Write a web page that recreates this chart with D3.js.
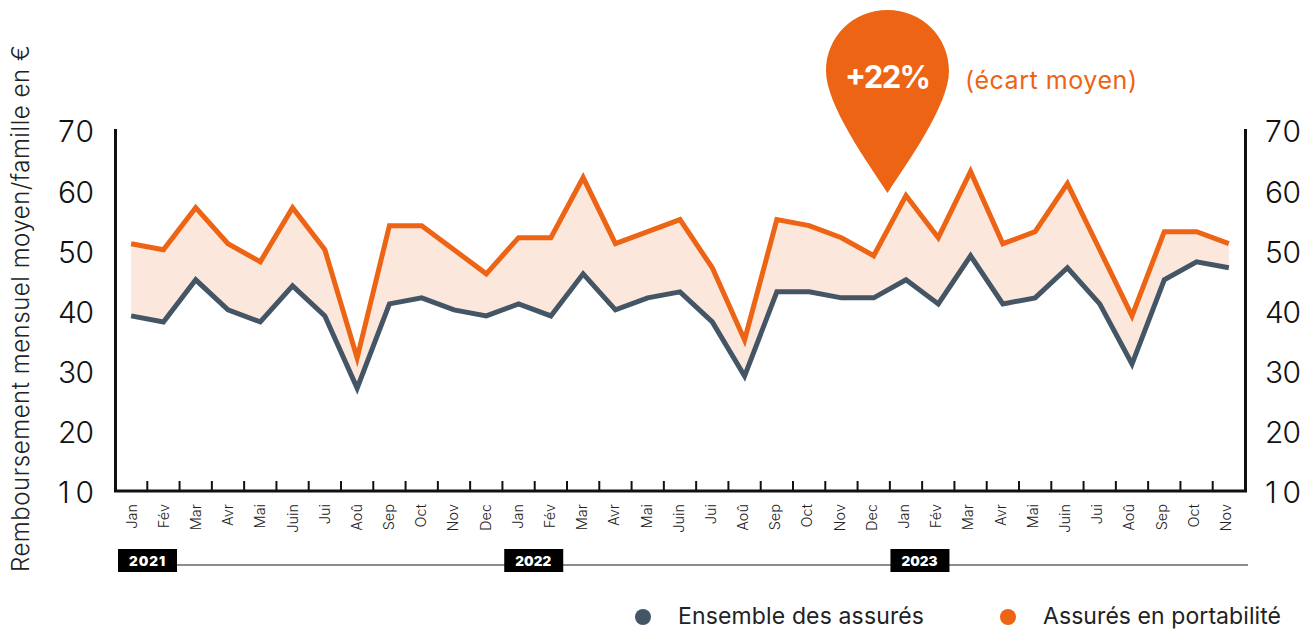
<!DOCTYPE html>
<html><head><meta charset="utf-8">
<script src="https://cdn.jsdelivr.net/npm/d3@7/dist/d3.min.js"></script>
<style>html,body{margin:0;padding:0;background:#fff}svg{display:block}text{font-family:Inter,Lato,sans-serif}</style>
</head><body><svg id="c" width="1312" height="629"></svg>
<script>
const months=["Jan","Fév","Mar","Avr","Mai","Juin","Jui","Aoû","Sep","Oct","Nov","Dec","Jan","Fév","Mar","Avr","Mai","Juin","Jui","Aoû","Sep","Oct","Nov","Dec","Jan","Fév","Mar","Avr","Mai","Juin","Jui","Aoû","Sep","Oct","Nov"];
const ensemble=[39,38,45,40,38,44,39,27,41,42,40,39,41,39,46,40,42,43,38,29,43,43,42,42,45,41,49,41,42,47,41,31,45,48,47];
const portabilite=[51,50,57,51,48,57,50,32,54,54,50,46,52,52,62,51,53,55,47,35,55,54,52,49,59,52,63,51,53,61,50,39,53,53,51];
const yTicks=[10,20,30,40,50,60,70];
const years=[["2021",0],["2022",12],["2023",24]];
const seriesNames=["Ensemble des assurés","Assurés en portabilité"];
const ORANGE="#ec6414",BLUE="#445566",FILL="#fbe7dc";

const svg=d3.select("#c");
const idx=d3.range(months.length);
const x=d3.scaleBand().domain(idx).range([115,1245]);
const xLab=d3.scaleBand().domain(idx).range([115,1241.5]);
const cx=i=>x(i)+x.bandwidth()/2;
const y=d3.scaleLinear().domain([10,70]).range([490.4,129.4]);

svg.append("path").attr("fill",FILL)
 .attr("d",d3.area().x(cx).y0(i=>y(ensemble[i])).y1(i=>y(portabilite[i]))(idx));
const line=arr=>d3.line().x(cx).y(i=>y(arr[i]))(idx);
svg.append("path").attr("d",line(ensemble)).attr("fill","none").attr("stroke",BLUE).attr("stroke-width",5).attr("stroke-linejoin","miter");
svg.append("path").attr("d",line(portabilite)).attr("fill","none").attr("stroke",ORANGE).attr("stroke-width",5).attr("stroke-linejoin","miter");

// axes frame
const base=491;
svg.append("path").attr("fill","none").attr("stroke","#111").attr("stroke-width",3)
 .attr("d",`M115.5,129V${base}H1245.5V129`);
idx.slice(1).forEach(i=>svg.append("line").attr("x1",x(i)).attr("x2",x(i)).attr("y1",base-10).attr("y2",base).attr("stroke","#111").attr("stroke-width",2));

// y labels
yTicks.forEach(t=>{
  const yy=y(t)+13;
  svg.append("text").attr("x",58).attr("y",yy).attr("font-size",30).attr("font-weight",300).attr("fill","#111").attr("textLength",36).text(t);
  svg.append("text").attr("x",1265).attr("y",yy).attr("font-size",30).attr("font-weight",300).attr("fill","#111").attr("textLength",36).text(t);
});
// month labels
idx.forEach(i=>svg.append("text").attr("transform",`translate(${xLab(i)+xLab.bandwidth()/2+5.5},504) rotate(-90)`).attr("text-anchor","end").attr("font-size",14.5).attr("font-weight",300).attr("fill","#222").text(months[i]));

// year strip
svg.append("line").attr("x1",177).attr("x2",1248).attr("y1",565).attr("y2",565).attr("stroke","#666").attr("stroke-width",1.5);
years.forEach(([lab,i])=>{
  const l=xLab(i)+3;
  svg.append("rect").attr("x",l).attr("y",549).attr("width",59).attr("height",23).attr("fill","#000");
  svg.append("text").attr("x",l+11).attr("y",566).attr("font-size",13.5).attr("font-weight",900).attr("fill","#fff").attr("textLength",36).text(lab);
});

// y title
svg.append("text").attr("transform","translate(29,572) rotate(-90)").attr("font-size",24).attr("font-weight",300).attr("fill","#222").attr("textLength",527).attr("lengthAdjust","spacing").text("Remboursement mensuel moyen/famille en €");

// pin
svg.append("path").attr("fill",ORANGE).attr("d","M887.5,193 C868,163 826,105 826,71 C826,37 853,10 887.5,10 C922,10 949,37 949,71 C949,105 907,163 887.5,193 Z");
svg.append("text").attr("x",845).attr("y",88).attr("font-size",31).attr("font-weight",700).attr("fill","#fff").attr("textLength",86).text("+22%");
svg.append("text").attr("x",965).attr("y",89).attr("font-size",25).attr("font-weight",400).attr("fill",ORANGE).attr("textLength",172).text("(écart moyen)");

// legend
[[643,678,246,BLUE],[1008,1043,238,ORANGE]].forEach((d,i)=>{
  svg.append("circle").attr("cx",d[0]).attr("cy",617).attr("r",8).attr("fill",d[3]);
  svg.append("text").attr("x",d[1]).attr("y",624).attr("font-size",23).attr("font-weight",400).attr("fill","#222").attr("textLength",d[2]).text(seriesNames[i]);
});
</script></body></html>
